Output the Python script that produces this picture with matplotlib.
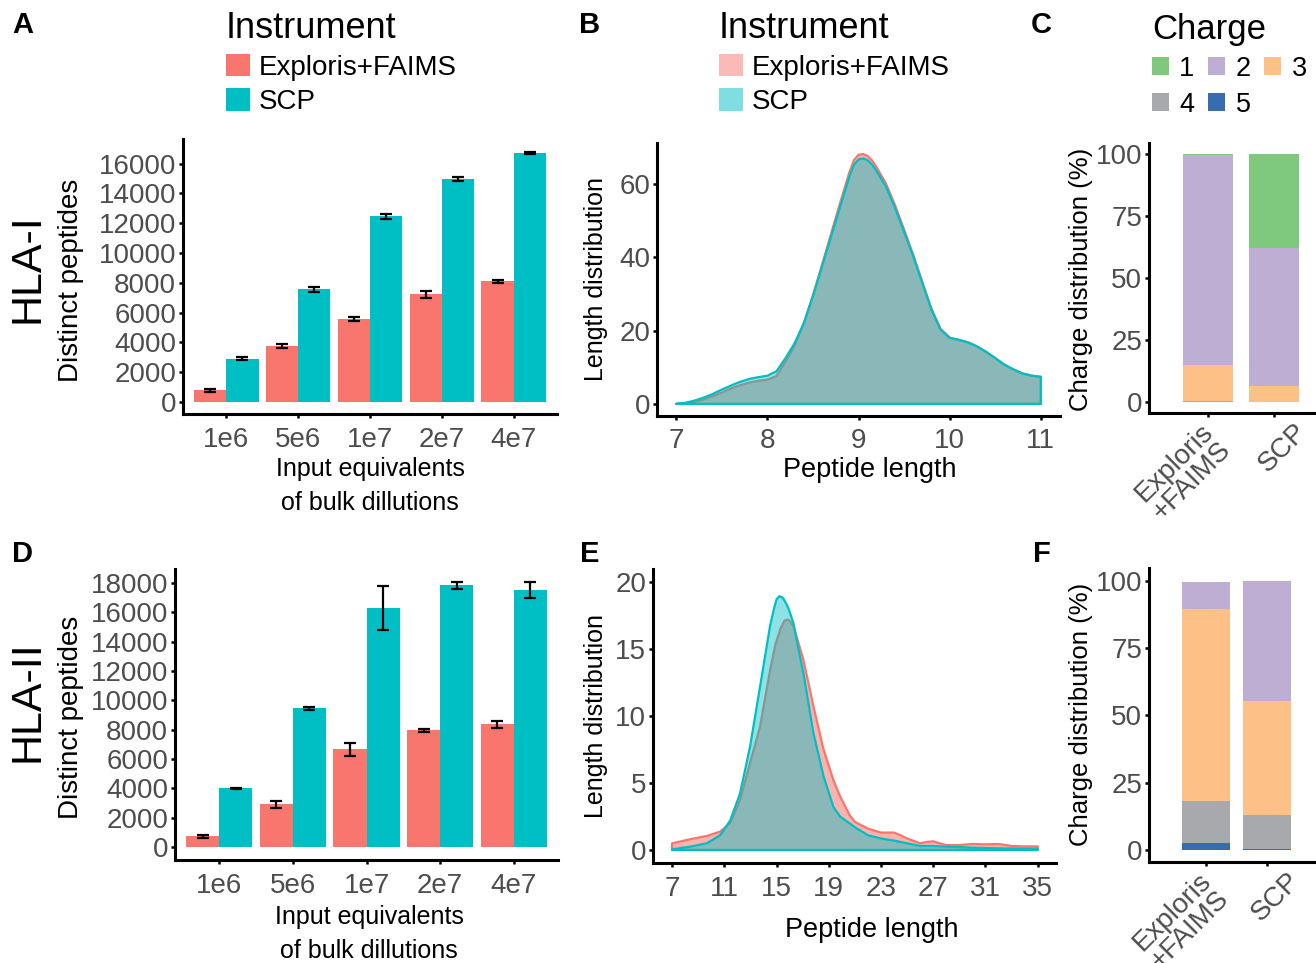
import numpy as np
import matplotlib
matplotlib.use("Agg")
import matplotlib.pyplot as plt
from matplotlib.patches import Patch
from matplotlib.transforms import offset_copy

plt.rcParams['font.family'] = ['Liberation Sans', 'DejaVu Sans']

W, H = 1316, 963
RED = '#F8766D'
TEAL = '#00BFC4'
TICK_COL = '#4D4D4D'

# ---- data: bar charts (HLA-I / HLA-II) ----
dilutions = ['1e6', '5e6', '1e7', '2e7', '4e7']
hla1_exploris = [780, 3740, 5600, 7230, 8100]
hla1_exploris_err = [110, 130, 130, 220, 110]
hla1_scp = [2910, 7560, 12460, 14950, 16690]
hla1_scp_err = [90, 160, 190, 140, 70]

hla2_exploris = [730, 2910, 6660, 7950, 8360]
hla2_exploris_err = [90, 250, 450, 80, 230]
hla2_scp = [4000, 9450, 16270, 17840, 17500]
hla2_scp_err = [50, 110, 1500, 230, 560]

# ---- data: length distributions ----
len1_x = [7.0, 7.1, 7.2, 7.3, 7.4, 7.5, 7.6, 7.7, 7.8, 7.9, 8.0, 8.1, 8.2, 8.3,
          8.4, 8.5, 8.6, 8.7, 8.8, 8.9, 8.95, 9.0, 9.05, 9.1, 9.15, 9.2, 9.3,
          9.4, 9.5, 9.6, 9.7, 9.8, 9.9, 10.0, 10.1, 10.2, 10.3, 10.4, 10.5,
          10.6, 10.7, 10.8, 10.9, 11.0]
len1_scp = [0.0, 0.3, 0.9, 1.7, 2.7, 3.9, 5.0, 6.0, 6.8, 7.3, 7.7, 8.9, 12.5, 16.6,
            22.0, 29.4, 37.5, 45.7, 53.9, 62.0, 65.3, 66.7, 67.0, 66.5, 65.3, 63.5, 59.4,
            53.5, 47.0, 40.3, 33.0, 25.7, 20.3, 18.0, 17.5, 16.8, 15.7, 14.2, 12.5,
            10.7, 9.4, 8.3, 7.7, 7.4]
len1_exp = [0.0, 0.2, 0.6, 1.2, 2.1, 3.1, 4.2, 5.1, 5.8, 6.3, 6.6, 7.6, 11.5, 16.0,
            22.0, 29.6, 38.0, 46.5, 55.0, 63.2, 66.5, 68.0, 68.2, 67.7, 66.4, 64.5, 60.2,
            54.3, 47.6, 40.7, 33.3, 26.0, 20.5, 18.1, 17.5, 16.8, 15.7, 14.2, 12.5,
            10.7, 9.4, 8.3, 7.7, 7.4]

len2_x_scp = [7.0, 8.38, 9.66, 10.68, 11.45, 12.2, 12.97, 13.74, 14.5, 14.8, 15.0,
              15.22, 15.5, 15.79, 16.0, 16.3, 16.6, 17.06, 17.83, 18.6, 19.36, 19.87,
              21, 22, 23, 24, 25, 26, 27, 28, 30, 32, 35]
len2_y_scp = [0.05, 0.25, 0.5, 1.1, 2.2, 4.2, 7.7, 12.2, 16.7, 18.0, 18.7,
              18.95, 18.8, 18.3, 17.8, 16.9, 15.4, 13.2, 8.7, 5.5, 3.2, 2.5,
              1.7, 1.1, 0.86, 0.7, 0.5, 0.3, 0.3, 0.25, 0.18, 0.12, 0.1]
len2_x_exp = [7.0, 8.38, 9.66, 10.68, 11.45, 12.2, 12.97, 13.74, 14.5, 14.93, 15.3,
              15.6, 15.8, 16.0, 16.3, 17.06, 17.83, 18.6, 19.36, 19.87, 20.6, 21, 22,
              23, 24, 24.5, 25, 26, 26.5, 27, 27.5, 28, 29, 30, 31, 32, 33, 34, 35]
len2_y_exp = [0.5, 0.8, 1.05, 1.37, 2.0, 3.7, 6.5, 9.2, 13.4, 15.4, 16.5,
              17.1, 17.2, 17.1, 16.7, 14.2, 10.7, 7.5, 5.2, 4.0, 2.6, 2.1, 1.6,
              1.3, 1.3, 1.1, 0.86, 0.5, 0.6, 0.65, 0.5, 0.37, 0.37, 0.45, 0.42,
              0.45, 0.3, 0.27, 0.27]

# ---- data: charge distributions (%) ----
instruments = ['Exploris\n+FAIMS', 'SCP']
charges = ['1', '2', '3', '4', '5']
charge_colors = ['#7FC97F', '#BEAED4', '#FDC086', '#A7A9AC', '#386CB0']
charge1 = {'1': [0.5, 37.8], '2': [84.7, 55.7], '3': [14.5, 6.5],
           '4': [0.3, 0.0], '5': [0.0, 0.0]}
charge2 = {'1': [0.0, 0.0], '2': [10.0, 44.9], '3': [71.4, 42.4],
           '4': [15.5, 12.3], '5': [2.7, 0.5]}

fig = plt.figure(figsize=(W / 100, H / 100), dpi=100)


def add_ax(l, t, r, b):
    return fig.add_axes([l / W, 1 - b / H, (r - l) / W, (b - t) / H])


def ftext(x, y, s, **kw):
    return fig.text(x / W, 1 - y / H, s, **kw)


def style(ax):
    for s in ['top', 'right']:
        ax.spines[s].set_visible(False)
    for s in ['left', 'bottom']:
        ax.spines[s].set_linewidth(2.2)
    ax.tick_params(width=1.8, length=3, labelsize=20, labelcolor=TICK_COL, pad=2)


def bar_panel(ax, exp, exp_err, scp, scp_err, ylim, yticks):
    x = np.arange(1, len(dilutions) + 1)
    ax.bar(x - 0.225, exp, 0.45, color=RED)
    ax.bar(x + 0.225, scp, 0.45, color=TEAL)
    ax.errorbar(x - 0.225, exp, yerr=exp_err, fmt='none', ecolor='black',
                elinewidth=1.6, capsize=4, capthick=1.6)
    ax.errorbar(x + 0.225, scp, yerr=scp_err, fmt='none', ecolor='black',
                elinewidth=1.6, capsize=4, capthick=1.6)
    ax.set_xlim(0.4, 5.6)
    ax.set_ylim(*ylim)
    ax.set_xticks(x)
    ax.set_xticklabels(dilutions)
    ax.set_yticks(yticks)
    style(ax)
    ax.tick_params(axis='x', pad=6)


def density_panel(ax, xe, ye, xs, ys, xlim, ylim, xticks, yticks):
    for xx, yy, col, a in [(xe, ye, RED, 0.55), (xs, ys, TEAL, 0.45)]:
        px = list(xx) + [xx[-1], xx[0]]
        py = list(yy) + [0, 0]
        ax.fill(px, py, facecolor=col, alpha=a, edgecolor='none')
        ax.fill(px, py, facecolor='none', edgecolor=col, lw=1.6, joinstyle='round')
    ax.set_xlim(*xlim)
    ax.set_ylim(*ylim)
    ax.set_xticks(xticks)
    ax.set_yticks(yticks)
    style(ax)
    ax.tick_params(axis='x', pad=6)


def charge_panel(ax, data, xlim, ylim, width, label_dx):
    x = np.arange(1, len(instruments) + 1)
    bottom = np.zeros(len(instruments))
    for c, col in zip(charges[::-1], charge_colors[::-1]):
        vals = np.array(data[c])
        ax.bar(x, vals, width, bottom=bottom, color=col)
        bottom += vals
    ax.set_xlim(*xlim)
    ax.set_ylim(*ylim)
    ax.set_xticks(x)
    ax.set_xticklabels([])
    ax.set_yticks([0, 25, 50, 75, 100])
    style(ax)
    for xi, lab, dx in zip(x, instruments, label_dx):
        tr = offset_copy(ax.get_xaxis_transform(), fig=fig, x=dx, y=-6, units='dots')
        ax.text(xi, 0, lab, transform=tr, rotation=45, rotation_mode='anchor',
                ha='right', va='top', fontsize=20, color=TICK_COL,
                multialignment='right', linespacing=0.95)


# ---- panels ----
axA = add_ax(183, 139, 557, 414)
bar_panel(axA, hla1_exploris, hla1_exploris_err, hla1_scp, hla1_scp_err,
          (-800, 17650), range(0, 16001, 2000))
axD = add_ax(175, 569, 558, 860)
bar_panel(axD, hla2_exploris, hla2_exploris_err, hla2_scp, hla2_scp_err,
          (-890, 18950), range(0, 18001, 2000))

axB = add_ax(657, 143, 1060, 416)
density_panel(axB, len1_x, len1_exp, len1_x, len1_scp,
              (6.79, 11.21), (-3.3, 71.2), [7, 8, 9, 10, 11], [0, 20, 40, 60])
axE = add_ax(653, 569, 1056, 863)
density_panel(axE, len2_x_exp, len2_y_exp, len2_x_scp, len2_y_scp,
              (5.54, 36.4), (-0.97, 20.97), range(7, 36, 4), [0, 5, 10, 15, 20])

axC = add_ax(1149, 143, 1316, 413)
charge_panel(axC, charge1, (0.106, 2.64), (-4.4, 104.4), 0.76, [-8, 20])
axF = add_ax(1149, 568, 1316, 862)
charge_panel(axF, charge2, (0.066, 2.80), (-4.5, 104.8), 0.79, [-8, 20])

# ---- axis titles ----
for yc in [280, 717]:
    ftext(71, yc, 'Distinct peptides', rotation=90, ha='center', va='center', fontsize=20)
for yc in [279, 716]:
    ftext(596, yc, 'Length distribution', rotation=90, ha='center', va='center', fontsize=18)
for yc in [279, 714]:
    ftext(1081, yc, 'Charge distribution (%)', rotation=90, ha='center', va='center',
          fontsize=18.5)
ftext(870, 470, 'Peptide length', ha='center', va='center', fontsize=19.5)
ftext(872, 930, 'Peptide length', ha='center', va='center', fontsize=19.5)
for xc, yc in [(370, 486), (369, 934)]:
    ftext(xc, yc, 'Input equivalents\nof bulk dillutions', ha='center', va='center',
          fontsize=18, linespacing=1.5)

ftext(28, 268, 'HLA-I', rotation=90, ha='center', va='center', fontsize=31)
ftext(28, 701, 'HLA-II', rotation=90, ha='center', va='center', fontsize=31)

for s, x, y in [('A', 12, 25), ('B', 579, 25), ('C', 1031, 25),
                ('D', 12, 554), ('E', 580, 554), ('F', 1033, 554)]:
    ftext(x, y, s, ha='left', va='center', fontsize=21, fontweight='bold')

# ---- legends ----
inst_names = ['Exploris+FAIMS', 'SCP']
h_bar = [Patch(facecolor=RED), Patch(facecolor=TEAL)]
h_den = [Patch(facecolor=RED, alpha=0.5), Patch(facecolor=TEAL, alpha=0.5)]
for handles, x0 in [(h_bar, 226), (h_den, 719)]:
    fig.legend(handles, inst_names, loc='upper left',
               bbox_to_anchor=(x0 / W, 1 - 11 / H), frameon=False,
               fontsize=20, title='Instrument', title_fontsize=26,
               alignment='left', handlelength=0.86, handleheight=0.86,
               handletextpad=0.32, labelspacing=0.28, borderpad=0,
               borderaxespad=0)

order = [0, 3, 1, 4, 2]
h_ch = [Patch(facecolor=charge_colors[i]) for i in order]
fig.legend(h_ch, [charges[i] for i in order], loc='upper left',
           bbox_to_anchor=(1152 / W, 1 - 13 / H), frameon=False, ncol=3,
           fontsize=19.5, title='Charge', title_fontsize=25, alignment='left',
           handlelength=0.63, handleheight=0.63, handletextpad=0.38,
           columnspacing=0.5, labelspacing=0.36, borderpad=0, borderaxespad=0)

fig.savefig('out.png', dpi=100)
